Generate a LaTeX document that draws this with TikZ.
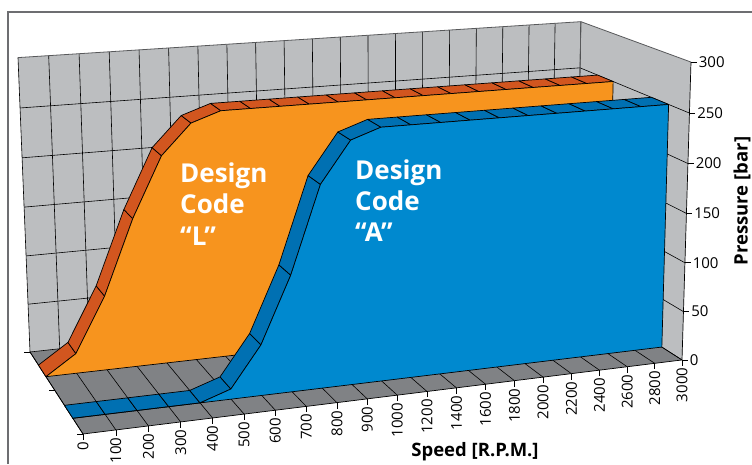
\documentclass[tikz,border=0pt]{standalone}
\usepackage{fontspec}
\setmainfont{Open Sans}
\definecolor{wallgray}{HTML}{BCBEC0}
\definecolor{floorgray}{HTML}{808285}
\definecolor{framegray}{HTML}{6D6E71}
\definecolor{edgegray}{HTML}{58595B}
\definecolor{orangeface}{HTML}{F7941E}
\definecolor{orangetop}{HTML}{D2561F}
\definecolor{blueface}{HTML}{0089CF}
\definecolor{bluetop}{HTML}{0070B2}
% perspective point: speed fraction, depth fraction, pressure fraction
\newcommand\Pt[3]{({prjx(#1,#2,#3)},{prjy(#1,#2,#3)})}
\begin{document}
\begin{tikzpicture}[x=1pt,y=-1pt,
  declare function={
    prjd(\a,\b,\c)=1+0.10385*\a+0.1175*\b-0.0347*\c;
    prjx(\a,\b,\c)=(669.83*\a-49.47*\b-14.05*\c+83)/prjd(\a,\b,\c);
    prjy(\a,\b,\c)=(-36.66*\a-40.66*\b-330.97*\c+434)/prjd(\a,\b,\c);
  },
  gridline/.style={black, line width=0.6pt},
  tickline/.style={black, line width=0.7pt},
  ticklabel/.style={font=\fontsize{15}{18}\selectfont, inner sep=1.5pt},
  axistitle/.style={font=\fontsize{18.5}{22}\bfseries, inner sep=0pt},
  slabedge/.style={black, line width=0.7pt, line join=round},
  topL/.style={slabedge, fill=orangetop},
  faceL/.style={slabedge, fill=orangeface},
  topA/.style={slabedge, fill=bluetop},
  faceA/.style={slabedge, fill=blueface},
  codelabel/.style={font=\fontsize{26}{31}\bfseries, text=white, inner sep=0pt, anchor=base west},
]
\useasboundingbox (0,0) rectangle (752,464);
\fill[white] (0,0) rectangle (752,464);
\draw[framegray, line width=1.5pt] (8,464) -- (8,12) -- (752,12);

% walls and floor
\fill[wallgray] \Pt{0}{1}{0} -- \Pt{1}{1}{0} -- \Pt{1}{1}{1} -- \Pt{0}{1}{1} -- cycle;
\fill[wallgray] \Pt{1}{0}{0} -- \Pt{1}{1}{0} -- \Pt{1}{1}{1} -- \Pt{1}{0}{1} -- cycle;
\fill[floorgray] \Pt{0}{0}{0} -- \Pt{1}{0}{0} -- \Pt{1}{1}{0} -- \Pt{0}{1}{0} -- cycle;

% gridlines
\foreach \i in {0,...,20} {
  \draw[gridline] \Pt{\i/20}{1}{0} -- \Pt{\i/20}{1}{1};
  \draw[gridline] \Pt{\i/20}{0}{0} -- \Pt{\i/20}{1}{0};
}
\foreach \k in {0,...,5} {
  \draw[gridline] \Pt{0}{1}{\k/6} -- \Pt{1}{1}{\k/6};
  \draw[gridline] \Pt{1}{0}{\k/6} -- \Pt{1}{1}{\k/6};
}
\draw[edgegray, line width=0.8pt] \Pt{0}{1}{1} -- \Pt{1}{1}{1} -- \Pt{1}{0}{1};
\draw[edgegray, line width=0.8pt] \Pt{1}{1}{0} -- \Pt{1}{1}{1};
\draw[tickline] \Pt{0}{1}{0} -- \Pt{0}{0}{0} -- \Pt{1}{0}{0} -- \Pt{1}{0}{1};

% pressure axis
\foreach \k/\t in {0/0,1/50,2/100,3/150,4/200,5/250,6/300} {
  \draw[tickline] \Pt{1}{0}{\k/6} -- ++(6,0)
    node[ticklabel, anchor=west] (zl\k) {\t};
}
% series depth ticks
\foreach \d in {0,0.5,1} {
  \draw[tickline] \Pt{0}{\d}{0} -- ++(-6,0);
}
% speed axis
\foreach \i/\t in {0/0,1/100,2/200,3/300,4/400,5/500,6/600,7/700,8/800,9/900,10/1000,
                   11/1200,12/1400,13/1600,14/1800,15/2000,16/2200,17/2400,18/2600,19/2800,20/3000} {
  \draw[tickline] \Pt{\i/20}{0}{0} -- ++(0,6)
    node[ticklabel, rotate=90, anchor=east] (xl\i) {\t};
}
\node[axistitle] (speedtitle) at (475,452) {Speed [R.P.M.]};
\node[axistitle, rotate=90] (prestitle) at (742,201) {Pressure [bar]};

% design code L (rear slab)
\foreach \i/\a/\b in {0/0/20,1/20/75,2/75/150,3/150/210,4/210/240,5/240/250} {
  \filldraw[topL] \Pt{\i/20}{0.675}{\a/300} -- \Pt{(\i+1)/20}{0.675}{\b/300}
    -- \Pt{(\i+1)/20}{0.825}{\b/300} -- \Pt{\i/20}{0.825}{\a/300} -- cycle;
}
\foreach \i in {6,...,19} {
  \filldraw[topL] \Pt{\i/20}{0.675}{250/300} -- \Pt{(\i+1)/20}{0.675}{250/300}
    -- \Pt{(\i+1)/20}{0.825}{250/300} -- \Pt{\i/20}{0.825}{250/300} -- cycle;
}
\filldraw[faceL] \Pt{0}{0.675}{0} -- \Pt{1/20}{0.675}{20/300} -- \Pt{2/20}{0.675}{75/300}
  -- \Pt{3/20}{0.675}{150/300} -- \Pt{4/20}{0.675}{210/300} -- \Pt{5/20}{0.675}{240/300}
  -- \Pt{6/20}{0.675}{250/300} -- \Pt{1}{0.675}{250/300} -- \Pt{1}{0.675}{0} -- cycle;

% design code A (front slab)
\foreach \i/\a/\b in {0/0/0,1/0/0,2/0/0,3/0/0,4/0/10,5/10/50,6/50/115,7/115/200,8/200/240,9/240/250} {
  \filldraw[topA] \Pt{\i/20}{0.175}{\a/300} -- \Pt{(\i+1)/20}{0.175}{\b/300}
    -- \Pt{(\i+1)/20}{0.325}{\b/300} -- \Pt{\i/20}{0.325}{\a/300} -- cycle;
}
\foreach \i in {10,...,19} {
  \filldraw[topA] \Pt{\i/20}{0.175}{250/300} -- \Pt{(\i+1)/20}{0.175}{250/300}
    -- \Pt{(\i+1)/20}{0.325}{250/300} -- \Pt{\i/20}{0.325}{250/300} -- cycle;
}
\filldraw[faceA] \Pt{0}{0.175}{0} -- \Pt{4/20}{0.175}{0} -- \Pt{5/20}{0.175}{10/300}
  -- \Pt{6/20}{0.175}{50/300} -- \Pt{7/20}{0.175}{115/300} -- \Pt{8/20}{0.175}{200/300}
  -- \Pt{9/20}{0.175}{240/300} -- \Pt{10/20}{0.175}{250/300} -- \Pt{1}{0.175}{250/300}
  -- \Pt{1}{0.175}{0} -- cycle;

% labels
\node[codelabel] (l1) at (180,182) {Design};
\node[codelabel] (l2) at (180,213) {Code};
\node[codelabel] (l3) at (180,245) {“L”};
\node[codelabel] (a1) at (355,179) {Design};
\node[codelabel] (a2) at (355,210) {Code};
\node[codelabel] (a3) at (355,241) {“A”};
\end{tikzpicture}
\end{document}
